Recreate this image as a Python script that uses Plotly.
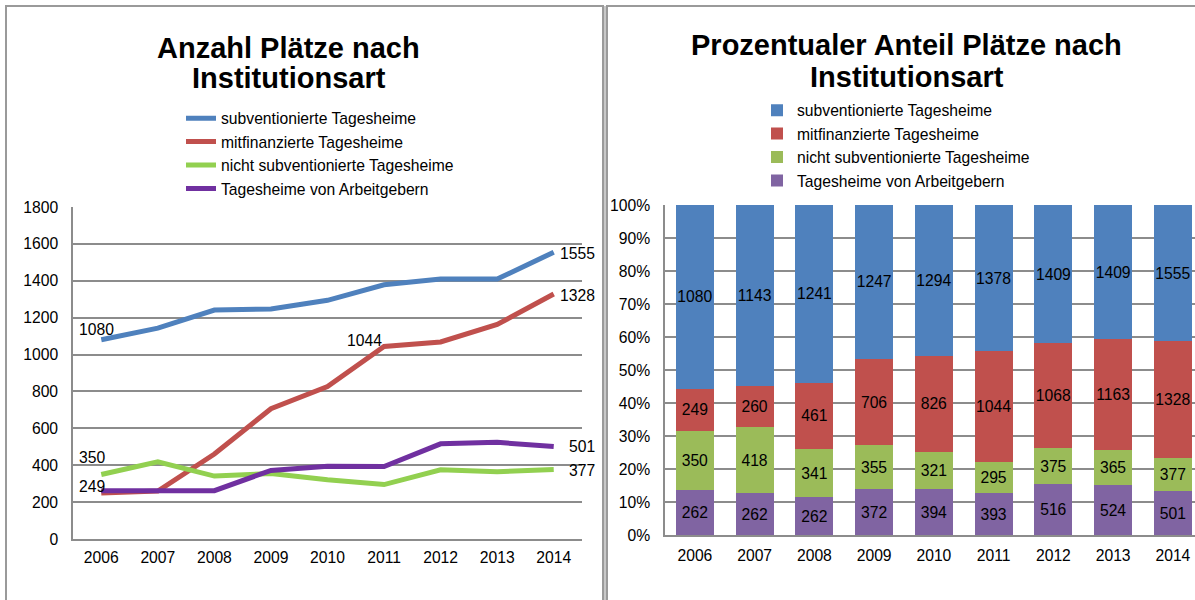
import plotly.graph_objects as go

# data
years = ["2006", "2007", "2008", "2009", "2010", "2011", "2012", "2013", "2014"]
subventioniert = [1080, 1143, 1241, 1247, 1294, 1378, 1409, 1409, 1555]
mitfinanziert = [249, 260, 461, 706, 826, 1044, 1068, 1163, 1328]
nicht_subventioniert = [350, 418, 341, 355, 321, 295, 375, 365, 377]
arbeitgeber = [262, 262, 262, 372, 394, 393, 516, 524, 501]

names = ["subventionierte Tagesheime", "mitfinanzierte Tagesheime",
         "nicht subventionierte Tagesheime", "Tagesheime von Arbeitgebern"]
series = [subventioniert, mitfinanziert, nicht_subventioniert, arbeitgeber]
line_colors = ["#4F81BD", "#C0504D", "#92D050", "#7030A0"]
bar_colors = ["#4F81BD", "#C0504D", "#9BBB59", "#8064A2"]

W, H = 1195, 600
FONT = "Liberation Sans, Arial, sans-serif"
GRID = "#8c8c8c"
FS = 15.7


def px(x):
    return x / W


def py(y):
    return 1 - y / H


fig = go.Figure()

# left: lines
for name, vals, col in zip(names, series, line_colors):
    fig.add_trace(go.Scatter(
        x=years, y=vals, name=name, mode="lines",
        line=dict(color=col, width=5),
        xaxis="x", yaxis="y", legend="legend"))

# right: 100% stacked bars, bottom to top
for i in [3, 2, 1, 0]:
    fig.add_trace(go.Bar(
        x=years, y=series[i], name=names[i],
        marker=dict(color=bar_colors[i], line=dict(width=0)),
        text=[str(v) for v in series[i]], textposition="inside",
        insidetextanchor="middle", constraintext="none", textangle=0,
        textfont=dict(color="black", size=FS, family=FONT),
        xaxis="x2", yaxis="y2", legend="legend2"))

# data labels on the line chart (index, series, xshift, yshift, anchor)
line_labels = [
    (0, subventioniert, -5, 10, "center"),
    (5, mitfinanziert, -20, 6, "center"),
    (8, subventioniert, 4, -1, "left"),
    (8, mitfinanziert, 4, -1, "left"),
    (8, arbeitgeber, 13, 0, "left"),
    (8, nicht_subventioniert, 13, -1.5, "left"),
    (0, nicht_subventioniert, -9, 17, "center"),
    (0, mitfinanziert, -9, 7, "center"),
]
annotations = []
for idx, vals, xs, ys, anc in line_labels:
    # category axis: position by category index
    annotations.append(dict(
        x=idx, y=vals[idx], xref="x", yref="y", text=str(vals[idx]),
        showarrow=False, xshift=xs, yshift=ys, xanchor=anc, yanchor="middle",
        font=dict(size=FS, color="black", family=FONT)))

# chart titles
titles = [
    (288.5, 48.5, "Anzahl Plätze nach"),
    (288.5, 78, "Institutionsart"),
    (906, 45, "Prozentualer Anteil Plätze nach"),
    (907, 77, "Institutionsart"),
]
for x, y, t in titles:
    annotations.append(dict(
        x=px(x), y=py(y), xref="paper", yref="paper", text="<b>%s</b>" % t,
        showarrow=False, xanchor="center", yanchor="middle",
        font=dict(size=29, color="black", family=FONT)))

# panel frames
shapes = [
    dict(type="rect", xref="paper", yref="paper", x0=px(603), x1=px(607),
         y0=-0.05, y1=py(6), fillcolor="#c8c8c8", line=dict(width=0)),
    dict(type="rect", xref="paper", yref="paper", x0=px(6), x1=px(603),
         y0=-0.05, y1=py(6), line=dict(color="#9a9a9a", width=2)),
    dict(type="rect", xref="paper", yref="paper", x0=px(607), x1=px(1210),
         y0=-0.05, y1=py(6), line=dict(color="#9a9a9a", width=2)),
]

axis_common = dict(showgrid=False, showline=True, linecolor=GRID, linewidth=1.5,
                   ticks="", tickfont=dict(size=FS, color="black", family=FONT),
                   zeroline=False, fixedrange=True)

fig.update_layout(
    width=W, height=H,
    margin=dict(l=0, r=0, t=0, b=0, autoexpand=False),
    paper_bgcolor="white", plot_bgcolor="white",
    font=dict(family=FONT, size=FS, color="black"),
    barmode="stack", barnorm="percent", bargap=0.364,
    showlegend=True,
    xaxis=dict(axis_common, domain=[px(73), px(582)], type="category",
               range=[-0.5, 8.5], anchor="y", ticklabelstandoff=3),
    yaxis=dict(axis_common, domain=[py(539), py(207)], range=[0, 1800],
               dtick=200, showgrid=True, gridcolor=GRID, gridwidth=1.5,
               anchor="x", ticklabelstandoff=10),
    xaxis2=dict(axis_common, domain=[px(665), 1.0], type="category",
                range=[-0.5, 8.37], anchor="y2", ticklabelstandoff=5),
    yaxis2=dict(axis_common, domain=[py(535), py(205)], range=[0, 100],
                dtick=10, ticksuffix="%", showgrid=True, gridcolor=GRID,
                gridwidth=1.5, anchor="x2", ticklabelstandoff=10),
    legend=dict(x=px(181), y=py(101.5), xanchor="left", yanchor="top",
                bgcolor="rgba(0,0,0,0)", font=dict(size=FS, family=FONT),
                itemwidth=30),
    legend2=dict(x=px(757), y=py(93.5), xanchor="left", yanchor="top",
                 bgcolor="rgba(0,0,0,0)", font=dict(size=FS, family=FONT),
                 traceorder="reversed", itemwidth=30),
    annotations=annotations,
    shapes=shapes,
)

fig.write_html("out.html", config={"displayModeBar": False},
               post_script="document.body.style.margin='0';")
